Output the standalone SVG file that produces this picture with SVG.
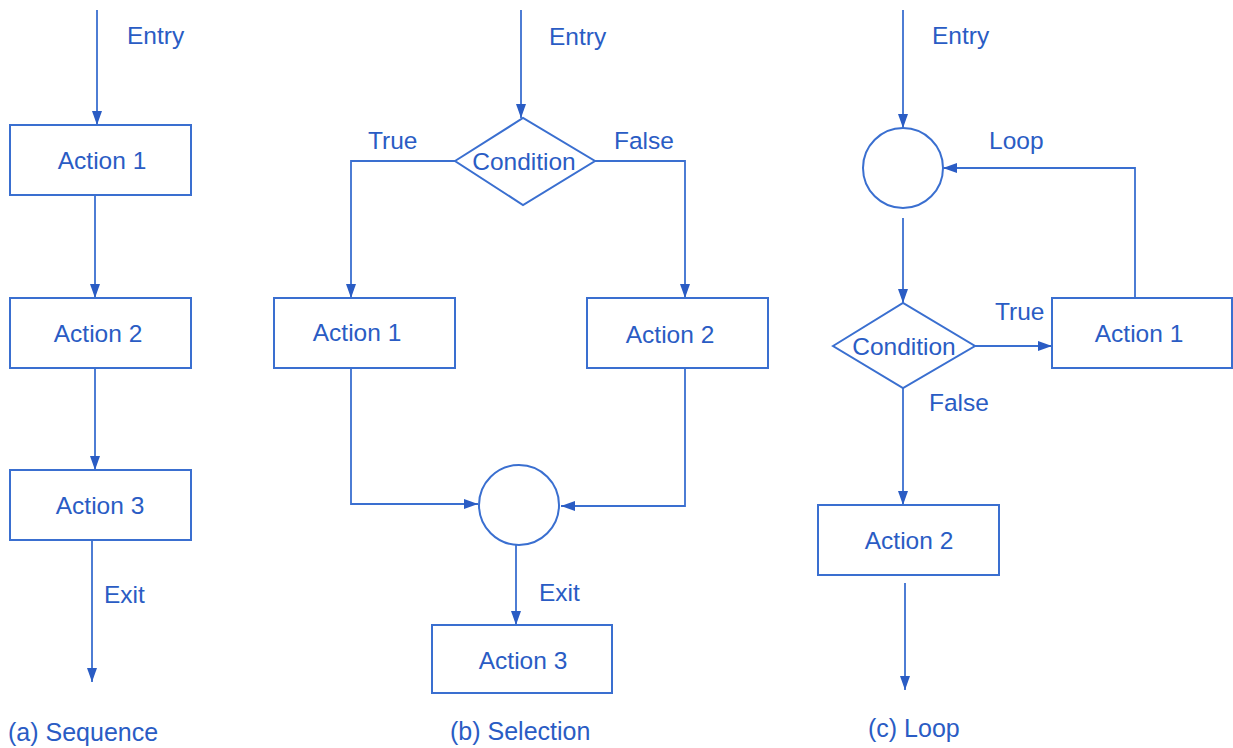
<svg xmlns="http://www.w3.org/2000/svg" width="1233" height="748" viewBox="0 0 1233 748">
<style>
.box{fill:#fff;stroke:#3a6fd0;stroke-width:2}
.ln{fill:none;stroke:#3a6fd0;stroke-width:1.8;marker-end:url(#ah)}
text{font-family:"Liberation Sans",Arial,sans-serif;font-size:24.5px;fill:#2a5cc4}
.c{text-anchor:middle}
.cap{font-size:25px}
</style>
<defs>
<marker id="ah" viewBox="0 0 14 10" refX="14" refY="5" markerWidth="14" markerHeight="10" markerUnits="userSpaceOnUse" orient="auto">
<path d="M0,0 L14,5 L0,10 Z" fill="#2a5cc4"/>
</marker>
</defs>
<rect width="1233" height="748" fill="#fff"/>
<g id="connectors">
<line class="ln" x1="97" y1="10" x2="97" y2="125"/>
<line class="ln" x1="95" y1="195" x2="95" y2="298"/>
<line class="ln" x1="95" y1="368" x2="95" y2="470"/>
<line class="ln" x1="92" y1="540" x2="92" y2="682"/>
<line class="ln" x1="521" y1="10" x2="521" y2="118"/>
<polyline class="ln" points="455,161 351,161 351,298"/>
<polyline class="ln" points="595,161 685,161 685,298"/>
<polyline class="ln" points="351,368 351,504 478,504"/>
<polyline class="ln" points="685,368 685,506 561,506"/>
<line class="ln" x1="516" y1="545" x2="516" y2="625"/>
<line class="ln" x1="903" y1="10" x2="903" y2="128"/>
<polyline class="ln" points="1135,298 1135,168 943,168"/>
<line class="ln" x1="903" y1="218" x2="903" y2="303"/>
<line class="ln" x1="975" y1="346" x2="1052" y2="346"/>
<line class="ln" x1="903" y1="388" x2="903" y2="505"/>
<line class="ln" x1="905" y1="583" x2="905" y2="690"/>
</g>
<g id="labels">
<text x="127" y="44">Entry</text>
<text x="104" y="603">Exit</text>
<text x="549" y="45">Entry</text>
<text x="368" y="149">True</text>
<text x="614" y="149">False</text>
<text x="539" y="601">Exit</text>
<text x="932" y="44">Entry</text>
<text x="989" y="149">Loop</text>
<text x="995" y="320">True</text>
<text x="929" y="411">False</text>
</g>
<g id="a-action1"><rect class="box" x="10" y="125" width="181" height="70"/><text class="c" x="102" y="169">Action 1</text></g>
<g id="a-action2"><rect class="box" x="10" y="298" width="181" height="70"/><text class="c" x="98" y="342">Action 2</text></g>
<g id="a-action3"><rect class="box" x="10" y="470" width="181" height="70"/><text class="c" x="100" y="514">Action 3</text></g>
<g id="b-condition"><polygon class="box" points="455,161 523,118 595,161 523,205"/><text class="c" x="524" y="170">Condition</text></g>
<g id="b-action1"><rect class="box" x="274" y="298" width="181" height="70"/><text class="c" x="357" y="341">Action 1</text></g>
<g id="b-action2"><rect class="box" x="587" y="298" width="181" height="70"/><text class="c" x="670" y="343">Action 2</text></g>
<g id="b-join"><circle class="box" cx="519" cy="505" r="40"/></g>
<g id="b-action3"><rect class="box" x="432" y="625" width="180" height="68"/><text class="c" x="523" y="669">Action 3</text></g>
<g id="c-join"><circle class="box" cx="903" cy="168" r="40"/></g>
<g id="c-condition"><polygon class="box" points="833,346 903,303 975,346 903,388"/><text class="c" x="904" y="355">Condition</text></g>
<g id="c-action1"><rect class="box" x="1052" y="298" width="180" height="70"/><text class="c" x="1139" y="342">Action 1</text></g>
<g id="c-action2"><rect class="box" x="818" y="505" width="181" height="70"/><text class="c" x="909" y="549">Action 2</text></g>
<g id="captions">
<text class="cap" x="8" y="741">(a) Sequence</text>
<text class="cap" x="450" y="740">(b) Selection</text>
<text class="cap" x="868" y="737">(c) Loop</text>
</g>
</svg>
